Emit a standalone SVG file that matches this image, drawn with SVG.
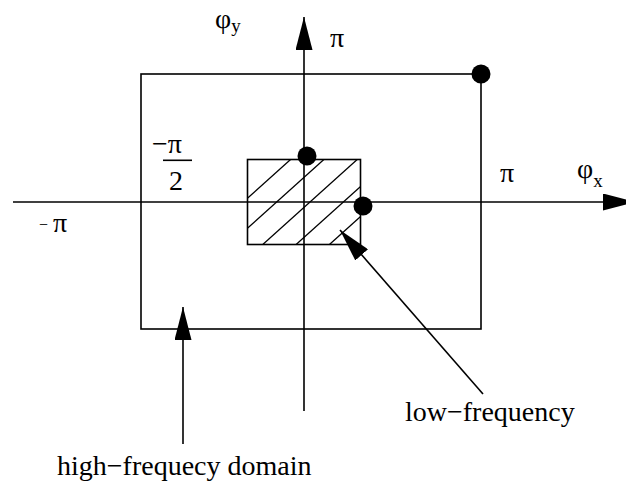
<svg xmlns="http://www.w3.org/2000/svg" width="626" height="482" viewBox="0 0 626 482">
<style>
  .ln { stroke: #000; stroke-width: 1.6; fill: none; }
  .ht { stroke: #000; stroke-width: 1.3; fill: none; }
  .dot { fill: #000; }
  text { font-family: "Liberation Serif", "Times New Roman", serif; font-size: 28px; fill: #000; }
  .sub { font-size: 19px; }
</style>
<defs>
  <marker id="ah" viewBox="0 0 33 17" refX="33" refY="8.5" markerWidth="33" markerHeight="17" markerUnits="userSpaceOnUse" orient="auto">
    <path d="M0,0 L33,8.5 L0,17 z" fill="#000"/>
  </marker>
  <clipPath id="lowclip">
    <rect x="247.5" y="159.5" width="113" height="85"/>
  </clipPath>
</defs>
<rect width="626" height="482" fill="#fff"/>

<g id="high-domain">
  <rect class="ln" x="141" y="74" width="340" height="255"/>
</g>

<g id="low-domain">
  <g clip-path="url(#lowclip)">
    <line class="ht" x1="240" y1="205" x2="370" y2="88"/>
    <line class="ht" x1="240" y1="235" x2="370" y2="118"/>
    <line class="ht" x1="240" y1="265" x2="370" y2="148"/>
    <line class="ht" x1="240" y1="295" x2="370" y2="178"/>
    <line class="ht" x1="240" y1="325" x2="370" y2="208"/>
  </g>
  <rect class="ln" x="247.5" y="159.5" width="113" height="85"/>
</g>

<g id="connectors">
  <line class="ln" x1="13" y1="202" x2="636" y2="202" marker-end="url(#ah)"/>
  <line class="ln" x1="304" y1="411" x2="304" y2="17" marker-end="url(#ah)"/>
  <line class="ln" x1="183" y1="444" x2="183" y2="307" marker-end="url(#ah)"/>
  <line class="ln" x1="483" y1="394" x2="340" y2="230" marker-end="url(#ah)"/>
</g>

<g id="dots">
  <circle class="dot" cx="481" cy="74" r="9.5"/>
  <circle class="dot" cx="307" cy="156" r="9.5"/>
  <circle class="dot" cx="363" cy="206" r="9.5"/>
</g>

<g id="labels">
  <text x="215" y="28">φ<tspan class="sub" dy="4">y</tspan></text>
  <text x="330" y="47">π</text>
  <text x="152" y="153">−π</text>
  <line class="ln" x1="163" y1="160.3" x2="192" y2="160.3"/>
  <text x="169" y="189.5">2</text>
  <text x="500" y="182">π</text>
  <text x="577" y="178">φ<tspan class="sub" dy="9">x</tspan></text>
  <text x="39" y="232"><tspan font-size="16" dy="-2">−</tspan><tspan x="53" dy="2">π</tspan></text>
  <text x="405" y="421">low−frequency</text>
  <text x="57" y="475">high−frequecy domain</text>
</g>
</svg>
